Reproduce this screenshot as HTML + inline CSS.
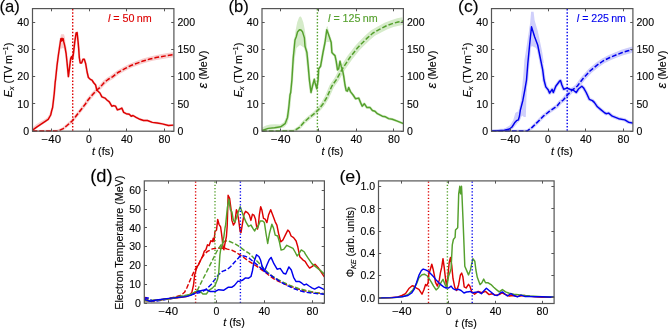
<!DOCTYPE html><html><head><meta charset="utf-8"><style>html,body{margin:0;padding:0;background:#fff;}svg{display:block;font-family:"Liberation Sans",sans-serif;}text{stroke-width:0.22px;stroke:#000;stroke-opacity:0.55}</style></head><body>
<svg width="668" height="329" viewBox="0 0 668 329">
<rect width="668" height="329" fill="#fff"/>
<g style="opacity:0.999">
<g transform="translate(-0.559,12.429) scale(1.1088,1.1571)"><text x="0" y="0" font-size="15">(a)</text></g>
<defs><clipPath id="cp32"><rect x="32.50" y="8.60" width="141.40" height="122.60"/></clipPath></defs>
<g clip-path="url(#cp32)">
<polygon points="32.50,132.30 56.95,132.50 60.53,131.53 64.01,129.81 67.97,126.64 73.01,122.29 76.75,117.80 80.71,112.81 87.00,104.73 89.50,100.99 94.48,95.21 98.10,91.36 101.36,88.76 105.69,83.90 109.15,81.15 113.68,78.48 119.16,74.27 125.93,70.62 131.91,67.54 138.20,65.25 143.73,63.23 150.51,61.32 156.48,60.00 162.73,58.97 168.41,58.02 173.87,57.27 173.13,52.13 167.59,52.98 161.87,54.03 155.52,55.20 149.29,56.68 142.27,58.77 136.60,60.95 130.09,63.46 123.87,66.78 116.84,70.73 111.32,75.12 106.85,77.85 102.91,81.10 98.64,86.04 95.50,88.64 91.72,92.79 86.70,98.81 84.20,102.67 78.09,110.79 74.25,115.80 70.79,120.11 66.03,124.36 62.39,127.39 59.47,128.87 56.85,129.70 32.50,129.90" fill="#f8cfcf" stroke="none"/>
<polyline points="32.50,130.60 33.20,129.60 37.00,126.80 40.70,124.30 44.50,121.80 48.20,119.30 50.70,115.00 51.60,111.00 52.60,107.50 53.50,100.00 54.30,93.00 55.20,82.00 55.60,79.30 57.00,65.70 58.40,55.00 59.30,49.00 60.20,43.00 60.80,38.80 61.50,41.00 62.00,38.20 62.60,40.50 63.20,38.80 63.80,42.00 64.80,46.20 66.10,53.50 67.00,62.00 68.40,76.60 69.80,65.70 70.70,58.40 71.60,56.60 72.50,59.30 73.40,53.80 74.80,41.70 76.10,33.00 77.10,32.60 78.00,40.80 78.70,48.70 79.30,57.50 80.20,62.90 81.60,62.90 83.00,59.30 84.30,59.30 85.70,63.80 87.10,72.00 88.40,77.50 90.30,79.30 92.00,80.20 93.50,82.50 95.60,85.00 96.80,90.00 99.90,93.00 101.90,96.90 105.00,98.10 106.90,100.00 109.30,101.80 111.80,106.20 113.70,105.60 115.60,106.20 117.40,109.90 119.30,109.30 121.80,108.10 123.70,112.40 126.20,113.70 129.30,114.30 131.20,116.20 133.00,115.50 136.10,117.40 139.90,119.30 143.60,120.50 147.40,120.50 152.30,122.40 157.30,123.00 162.30,123.90 168.50,125.50 173.50,125.10" fill="none" stroke="#f8cfcf" stroke-width="2.40" stroke-linejoin="round" stroke-linecap="butt" stroke-linecap="round"/>
<polygon points="58.00,50.00 59.30,44.00 60.30,38.00 61.00,34.30 64.00,34.30 65.00,38.00 65.60,44.00 67.00,50.00 63.00,48.00" fill="#f8cfcf" stroke="none"/>
<polygon points="32.50,131.00 32.50,127.50 36.00,124.50 40.00,122.00 44.00,119.80 47.50,117.50 50.00,113.00 51.20,113.50 49.00,119.50 45.00,122.80 40.50,125.50 36.00,128.50 33.50,131.00" fill="#f8cfcf" stroke="none"/>
</g>
<line x1="72.70" y1="9.10" x2="72.70" y2="131.20" stroke="#dd0000" stroke-width="1.4" stroke-dasharray="1.4 1.85"/>
<polyline points="32.50,131.10 56.90,131.10 60.00,130.20 63.20,128.60 67.00,125.50 71.90,121.20 75.50,116.80 79.40,111.80 85.60,103.70 88.10,99.90 93.10,94.00 96.80,90.00 100.00,87.40 104.30,82.50 108.00,79.50 112.50,76.80 118.00,72.50 124.90,68.70 131.00,65.50 137.40,63.10 143.00,61.00 149.90,59.00 156.00,57.60 162.30,56.50 168.00,55.50 173.50,54.70" fill="none" stroke="#dd0000" stroke-width="1.50" stroke-linejoin="round" stroke-linecap="butt" stroke-dasharray="4.8 2" />
<polyline points="32.50,130.60 33.20,129.60 37.00,126.80 40.70,124.30 44.50,121.80 48.20,119.30 50.70,115.00 51.60,111.00 52.60,107.50 53.50,100.00 54.30,93.00 55.20,82.00 55.60,79.30 57.00,65.70 58.40,55.00 59.30,49.00 60.20,43.00 60.80,38.80 61.50,41.00 62.00,38.20 62.60,40.50 63.20,38.80 63.80,42.00 64.80,46.20 66.10,53.50 67.00,62.00 68.40,76.60 69.80,65.70 70.70,58.40 71.60,56.60 72.50,59.30 73.40,53.80 74.80,41.70 76.10,33.00 77.10,32.60 78.00,40.80 78.70,48.70 79.30,57.50 80.20,62.90 81.60,62.90 83.00,59.30 84.30,59.30 85.70,63.80 87.10,72.00 88.40,77.50 90.30,79.30 92.00,80.20 93.50,82.50 95.60,85.00 96.80,90.00 99.90,93.00 101.90,96.90 105.00,98.10 106.90,100.00 109.30,101.80 111.80,106.20 113.70,105.60 115.60,106.20 117.40,109.90 119.30,109.30 121.80,108.10 123.70,112.40 126.20,113.70 129.30,114.30 131.20,116.20 133.00,115.50 136.10,117.40 139.90,119.30 143.60,120.50 147.40,120.50 152.30,122.40 157.30,123.00 162.30,123.90 168.50,125.50 173.50,125.10" fill="none" stroke="#dd0000" stroke-width="1.45" stroke-linejoin="round" stroke-linecap="butt" />
<rect x="32.50" y="8.60" width="141.40" height="122.60" fill="none" stroke="#555555" stroke-width="1.2"/>
<line x1="51.50" y1="131.20" x2="51.50" y2="128.50" stroke="#555555" stroke-width="1.0"/>
<line x1="51.50" y1="8.60" x2="51.50" y2="11.30" stroke="#555555" stroke-width="1.0"/>
<text x="51.35" y="142.70" font-size="10.00" text-anchor="middle" fill="#000" textLength="19.42" lengthAdjust="spacingAndGlyphs" >−40</text>
<line x1="89.50" y1="131.20" x2="89.50" y2="128.50" stroke="#555555" stroke-width="1.0"/>
<line x1="89.50" y1="8.60" x2="89.50" y2="11.30" stroke="#555555" stroke-width="1.0"/>
<text x="89.06" y="142.70" font-size="10.00" text-anchor="middle" fill="#000" textLength="5.85" lengthAdjust="spacingAndGlyphs" >0</text>
<line x1="126.50" y1="131.20" x2="126.50" y2="128.50" stroke="#555555" stroke-width="1.0"/>
<line x1="126.50" y1="8.60" x2="126.50" y2="11.30" stroke="#555555" stroke-width="1.0"/>
<text x="126.77" y="142.70" font-size="10.00" text-anchor="middle" fill="#000" textLength="11.71" lengthAdjust="spacingAndGlyphs" >40</text>
<line x1="164.50" y1="131.20" x2="164.50" y2="128.50" stroke="#555555" stroke-width="1.0"/>
<line x1="164.50" y1="8.60" x2="164.50" y2="11.30" stroke="#555555" stroke-width="1.0"/>
<text x="164.47" y="142.70" font-size="10.00" text-anchor="middle" fill="#000" textLength="11.71" lengthAdjust="spacingAndGlyphs" >80</text>
<text x="92.03" y="154.60" font-size="10.0" text-anchor="start" textLength="21.74" lengthAdjust="spacingAndGlyphs"><tspan font-style="italic">t</tspan> (fs)</text>
<line x1="32.50" y1="131.50" x2="35.20" y2="131.50" stroke="#555555" stroke-width="1.0"/>
<text x="29.10" y="134.95" font-size="10.00" text-anchor="end" fill="#000" textLength="5.85" lengthAdjust="spacingAndGlyphs" >0</text>
<line x1="32.50" y1="103.50" x2="35.20" y2="103.50" stroke="#555555" stroke-width="1.0"/>
<text x="29.10" y="107.71" font-size="10.00" text-anchor="end" fill="#000" textLength="11.71" lengthAdjust="spacingAndGlyphs" >10</text>
<line x1="32.50" y1="76.50" x2="35.20" y2="76.50" stroke="#555555" stroke-width="1.0"/>
<text x="29.10" y="80.46" font-size="10.00" text-anchor="end" fill="#000" textLength="11.71" lengthAdjust="spacingAndGlyphs" >20</text>
<line x1="32.50" y1="49.50" x2="35.20" y2="49.50" stroke="#555555" stroke-width="1.0"/>
<text x="29.10" y="53.22" font-size="10.00" text-anchor="end" fill="#000" textLength="11.71" lengthAdjust="spacingAndGlyphs" >30</text>
<line x1="32.50" y1="22.50" x2="35.20" y2="22.50" stroke="#555555" stroke-width="1.0"/>
<text x="29.10" y="25.97" font-size="10.00" text-anchor="end" fill="#000" textLength="11.71" lengthAdjust="spacingAndGlyphs" >40</text>
<line x1="173.90" y1="131.50" x2="171.20" y2="131.50" stroke="#555555" stroke-width="1.0"/>
<text x="177.50" y="134.95" font-size="10.00" text-anchor="start" fill="#000" textLength="5.85" lengthAdjust="spacingAndGlyphs" >0</text>
<line x1="173.90" y1="103.50" x2="171.20" y2="103.50" stroke="#555555" stroke-width="1.0"/>
<text x="177.50" y="107.71" font-size="10.00" text-anchor="start" fill="#000" textLength="11.71" lengthAdjust="spacingAndGlyphs" >50</text>
<line x1="173.90" y1="76.50" x2="171.20" y2="76.50" stroke="#555555" stroke-width="1.0"/>
<text x="177.50" y="80.46" font-size="10.00" text-anchor="start" fill="#000" textLength="17.56" lengthAdjust="spacingAndGlyphs" >100</text>
<line x1="173.90" y1="49.50" x2="171.20" y2="49.50" stroke="#555555" stroke-width="1.0"/>
<text x="177.50" y="53.22" font-size="10.00" text-anchor="start" fill="#000" textLength="17.56" lengthAdjust="spacingAndGlyphs" >150</text>
<line x1="173.90" y1="22.50" x2="171.20" y2="22.50" stroke="#555555" stroke-width="1.0"/>
<text x="177.50" y="25.97" font-size="10.00" text-anchor="start" fill="#000" textLength="17.56" lengthAdjust="spacingAndGlyphs" >200</text>
<g transform="translate(12.200,70.050) scale(1.0000,1.0780)"><g transform="rotate(-90)"><text x="0" y="0" font-size="10" text-anchor="middle"><tspan font-style="italic">E</tspan><tspan font-size="7" dy="2" font-style="italic">x</tspan><tspan dy="-2"> (TV m</tspan><tspan font-size="7" dy="-4">−1</tspan><tspan dy="4">)</tspan></text></g></g>
<g transform="translate(206.650,69.514) scale(1.0000,1.0714)"><g transform="rotate(-90)"><text x="0" y="0" font-size="10" text-anchor="middle"><tspan font-style="italic" font-size="12">ε</tspan> (MeV)</text></g></g>
<g transform="translate(107.900,22.400) scale(1.0800,1.0250)"><text x="0" y="0" font-size="10" fill="#dd0000" style="stroke:#dd0000;stroke-width:0.22px;stroke-opacity:0.55"><tspan font-style="italic">l</tspan> = 50 nm</text></g>
<g transform="translate(228.594,12.329) scale(1.1059,1.1571)"><text x="0" y="0" font-size="15">(b)</text></g>
<defs><clipPath id="cp262"><rect x="262.00" y="8.60" width="141.40" height="122.60"/></clipPath></defs>
<g clip-path="url(#cp262)">
<polygon points="262.00,132.30 293.27,132.72 296.85,131.03 300.57,128.66 305.69,123.09 310.61,118.88 315.62,115.20 320.87,110.08 324.91,104.91 328.84,98.51 333.95,87.36 338.98,80.34 344.82,70.12 352.26,59.20 359.75,49.97 363.43,46.21 369.62,40.28 374.92,35.76 381.54,32.25 387.47,29.24 393.45,27.06 398.85,25.63 403.67,24.84 402.33,17.36 397.15,18.37 391.15,20.14 384.53,22.76 378.26,26.15 371.08,30.24 365.18,35.52 358.97,41.79 355.05,46.03 347.54,55.80 340.18,67.28 334.62,77.66 329.65,85.04 324.76,96.49 321.29,102.49 317.73,107.32 312.98,112.20 308.19,115.92 303.11,120.51 298.23,126.14 295.15,128.17 293.13,129.48 262.00,129.90" fill="#d5ebc9" stroke="none"/>
<polyline points="262.00,130.50 268.20,128.40 274.50,127.70 280.70,126.80 285.10,123.70 287.50,117.40 288.80,107.50 290.00,95.00 290.70,92.50 291.90,80.00 293.20,58.70 295.00,40.00 296.30,36.70 297.50,32.00 299.40,29.80 301.00,30.00 302.50,31.70 304.40,37.90 305.00,46.20 306.90,52.50 308.10,64.90 309.40,80.00 311.00,92.50 312.50,86.00 314.30,79.30 315.00,82.50 316.80,88.70 318.10,80.00 318.70,68.70 320.60,66.20 323.00,52.50 325.00,42.50 326.80,29.80 328.00,33.00 329.30,36.70 331.20,42.50 331.90,52.50 333.00,53.70 335.00,55.60 336.20,61.20 337.50,69.90 338.70,68.70 340.00,61.20 341.20,66.20 342.50,69.90 343.70,76.20 345.00,85.00 346.20,90.60 347.40,91.20 348.70,87.50 350.60,91.90 353.10,95.00 355.50,98.70 358.70,98.10 360.50,102.40 362.20,106.20 364.30,103.70 366.80,107.40 369.90,107.40 372.40,110.50 374.90,111.20 377.40,113.70 382.30,116.20 385.50,116.80 388.60,118.60 392.30,119.30 397.30,121.10 403.50,123.60" fill="none" stroke="#d5ebc9" stroke-width="2.60" stroke-linejoin="round" stroke-linecap="butt" stroke-linecap="round"/>
<polygon points="291.50,70.00 292.50,58.00 293.50,48.00 294.20,40.40 295.70,29.80 297.20,22.20 299.00,17.50 300.20,16.30 301.50,17.50 303.30,22.20 304.80,29.80 306.30,40.40 307.10,48.00 308.30,58.00 309.50,72.00 307.50,72.00 306.00,58.00 304.50,48.00 300.00,45.00 296.50,48.00 294.80,58.00 293.50,70.00" fill="#d5ebc9" stroke="none"/>
<polygon points="262.00,131.00 262.00,127.50 266.00,125.50 270.00,124.60 275.00,124.30 280.00,124.50 283.50,122.50 285.50,119.00 287.00,113.00 288.00,105.00 289.50,95.00 291.50,95.00 290.30,106.00 289.30,116.00 287.50,123.50 284.00,127.50 278.00,128.80 270.00,129.60 264.00,131.00" fill="#d5ebc9" stroke="none"/>
<polygon points="325.20,42.00 326.00,30.00 326.80,26.50 327.80,26.50 329.00,33.00 330.50,42.00" fill="#d5ebc9" stroke="none"/>
</g>
<line x1="317.40" y1="9.10" x2="317.40" y2="131.20" stroke="#55a02d" stroke-width="1.4" stroke-dasharray="1.4 1.85"/>
<polyline points="262.00,131.10 293.20,131.10 296.00,129.60 299.40,127.40 304.40,121.80 309.40,117.40 314.30,113.70 319.30,108.70 323.10,103.70 326.80,97.50 331.80,86.20 336.80,79.00 342.50,68.70 349.90,57.50 357.40,48.00 361.20,44.00 367.40,37.90 373.00,33.00 379.90,29.20 386.00,26.00 392.30,23.60 398.00,22.00 403.00,21.10" fill="none" stroke="#55a02d" stroke-width="1.50" stroke-linejoin="round" stroke-linecap="butt" stroke-dasharray="4.8 2" />
<polyline points="262.00,130.50 268.20,128.40 274.50,127.70 280.70,126.80 285.10,123.70 287.50,117.40 288.80,107.50 290.00,95.00 290.70,92.50 291.90,80.00 293.20,58.70 295.00,40.00 296.30,36.70 297.50,32.00 299.40,29.80 301.00,30.00 302.50,31.70 304.40,37.90 305.00,46.20 306.90,52.50 308.10,64.90 309.40,80.00 311.00,92.50 312.50,86.00 314.30,79.30 315.00,82.50 316.80,88.70 318.10,80.00 318.70,68.70 320.60,66.20 323.00,52.50 325.00,42.50 326.80,29.80 328.00,33.00 329.30,36.70 331.20,42.50 331.90,52.50 333.00,53.70 335.00,55.60 336.20,61.20 337.50,69.90 338.70,68.70 340.00,61.20 341.20,66.20 342.50,69.90 343.70,76.20 345.00,85.00 346.20,90.60 347.40,91.20 348.70,87.50 350.60,91.90 353.10,95.00 355.50,98.70 358.70,98.10 360.50,102.40 362.20,106.20 364.30,103.70 366.80,107.40 369.90,107.40 372.40,110.50 374.90,111.20 377.40,113.70 382.30,116.20 385.50,116.80 388.60,118.60 392.30,119.30 397.30,121.10 403.50,123.60" fill="none" stroke="#55a02d" stroke-width="1.45" stroke-linejoin="round" stroke-linecap="butt" />
<rect x="262.00" y="8.60" width="141.40" height="122.60" fill="none" stroke="#555555" stroke-width="1.2"/>
<line x1="280.50" y1="131.20" x2="280.50" y2="128.50" stroke="#555555" stroke-width="1.0"/>
<line x1="280.50" y1="8.60" x2="280.50" y2="11.30" stroke="#555555" stroke-width="1.0"/>
<text x="280.85" y="142.70" font-size="10.00" text-anchor="middle" fill="#000" textLength="19.42" lengthAdjust="spacingAndGlyphs" >−40</text>
<line x1="318.50" y1="131.20" x2="318.50" y2="128.50" stroke="#555555" stroke-width="1.0"/>
<line x1="318.50" y1="8.60" x2="318.50" y2="11.30" stroke="#555555" stroke-width="1.0"/>
<text x="318.56" y="142.70" font-size="10.00" text-anchor="middle" fill="#000" textLength="5.85" lengthAdjust="spacingAndGlyphs" >0</text>
<line x1="356.50" y1="131.20" x2="356.50" y2="128.50" stroke="#555555" stroke-width="1.0"/>
<line x1="356.50" y1="8.60" x2="356.50" y2="11.30" stroke="#555555" stroke-width="1.0"/>
<text x="356.27" y="142.70" font-size="10.00" text-anchor="middle" fill="#000" textLength="11.71" lengthAdjust="spacingAndGlyphs" >40</text>
<line x1="393.50" y1="131.20" x2="393.50" y2="128.50" stroke="#555555" stroke-width="1.0"/>
<line x1="393.50" y1="8.60" x2="393.50" y2="11.30" stroke="#555555" stroke-width="1.0"/>
<text x="393.97" y="142.70" font-size="10.00" text-anchor="middle" fill="#000" textLength="11.71" lengthAdjust="spacingAndGlyphs" >80</text>
<text x="321.53" y="154.60" font-size="10.0" text-anchor="start" textLength="21.74" lengthAdjust="spacingAndGlyphs"><tspan font-style="italic">t</tspan> (fs)</text>
<line x1="262.00" y1="131.50" x2="264.70" y2="131.50" stroke="#555555" stroke-width="1.0"/>
<text x="258.60" y="134.95" font-size="10.00" text-anchor="end" fill="#000" textLength="5.85" lengthAdjust="spacingAndGlyphs" >0</text>
<line x1="262.00" y1="103.50" x2="264.70" y2="103.50" stroke="#555555" stroke-width="1.0"/>
<text x="258.60" y="107.71" font-size="10.00" text-anchor="end" fill="#000" textLength="11.71" lengthAdjust="spacingAndGlyphs" >10</text>
<line x1="262.00" y1="76.50" x2="264.70" y2="76.50" stroke="#555555" stroke-width="1.0"/>
<text x="258.60" y="80.46" font-size="10.00" text-anchor="end" fill="#000" textLength="11.71" lengthAdjust="spacingAndGlyphs" >20</text>
<line x1="262.00" y1="49.50" x2="264.70" y2="49.50" stroke="#555555" stroke-width="1.0"/>
<text x="258.60" y="53.22" font-size="10.00" text-anchor="end" fill="#000" textLength="11.71" lengthAdjust="spacingAndGlyphs" >30</text>
<line x1="262.00" y1="22.50" x2="264.70" y2="22.50" stroke="#555555" stroke-width="1.0"/>
<text x="258.60" y="25.97" font-size="10.00" text-anchor="end" fill="#000" textLength="11.71" lengthAdjust="spacingAndGlyphs" >40</text>
<line x1="403.40" y1="131.50" x2="400.70" y2="131.50" stroke="#555555" stroke-width="1.0"/>
<text x="407.00" y="134.95" font-size="10.00" text-anchor="start" fill="#000" textLength="5.85" lengthAdjust="spacingAndGlyphs" >0</text>
<line x1="403.40" y1="103.50" x2="400.70" y2="103.50" stroke="#555555" stroke-width="1.0"/>
<text x="407.00" y="107.71" font-size="10.00" text-anchor="start" fill="#000" textLength="11.71" lengthAdjust="spacingAndGlyphs" >50</text>
<line x1="403.40" y1="76.50" x2="400.70" y2="76.50" stroke="#555555" stroke-width="1.0"/>
<text x="407.00" y="80.46" font-size="10.00" text-anchor="start" fill="#000" textLength="17.56" lengthAdjust="spacingAndGlyphs" >100</text>
<line x1="403.40" y1="49.50" x2="400.70" y2="49.50" stroke="#555555" stroke-width="1.0"/>
<text x="407.00" y="53.22" font-size="10.00" text-anchor="start" fill="#000" textLength="17.56" lengthAdjust="spacingAndGlyphs" >150</text>
<line x1="403.40" y1="22.50" x2="400.70" y2="22.50" stroke="#555555" stroke-width="1.0"/>
<text x="407.00" y="25.97" font-size="10.00" text-anchor="start" fill="#000" textLength="17.56" lengthAdjust="spacingAndGlyphs" >200</text>
<g transform="translate(241.700,70.050) scale(1.0000,1.0780)"><g transform="rotate(-90)"><text x="0" y="0" font-size="10" text-anchor="middle"><tspan font-style="italic">E</tspan><tspan font-size="7" dy="2" font-style="italic">x</tspan><tspan dy="-2"> (TV m</tspan><tspan font-size="7" dy="-4">−1</tspan><tspan dy="4">)</tspan></text></g></g>
<g transform="translate(436.150,69.514) scale(1.0000,1.0714)"><g transform="rotate(-90)"><text x="0" y="0" font-size="10" text-anchor="middle"><tspan font-style="italic" font-size="12">ε</tspan> (MeV)</text></g></g>
<g transform="translate(328.000,22.400) scale(1.0739,1.0250)"><text x="0" y="0" font-size="10" fill="#55a02d" style="stroke:#55a02d;stroke-width:0.22px;stroke-opacity:0.55"><tspan font-style="italic">l</tspan> = 125 nm</text></g>
<g transform="translate(458.025,12.329) scale(1.1750,1.1571)"><text x="0" y="0" font-size="15">(c)</text></g>
<defs><clipPath id="cp491"><rect x="491.50" y="8.60" width="141.40" height="122.60"/></clipPath></defs>
<g clip-path="url(#cp491)">
<polygon points="491.50,132.30 527.24,132.67 533.18,128.63 539.62,122.42 544.50,117.55 550.71,112.73 558.28,107.71 561.43,103.85 564.76,101.48 569.12,96.41 573.50,91.63 576.34,89.91 579.15,87.47 584.93,80.03 591.72,72.80 598.98,66.95 604.36,63.29 611.05,59.99 617.05,57.61 623.25,55.22 628.82,53.63 633.81,52.29 632.19,46.51 627.18,47.97 621.35,49.78 614.95,52.39 608.75,55.01 601.64,58.71 595.82,62.85 588.28,69.20 581.27,76.97 575.65,84.53 573.66,86.29 570.50,88.37 565.88,93.59 561.84,98.52 558.57,100.95 555.72,104.69 548.49,109.67 542.10,114.85 537.18,119.98 531.02,126.17 526.96,129.53 491.50,129.90" fill="#cfcffb" stroke="none"/>
<polyline points="491.50,131.10 498.00,130.60 504.40,130.20 509.50,129.00 512.00,127.00 514.60,122.80 516.50,120.70 518.40,119.80 519.50,116.00 520.30,110.40 522.90,100.20 524.80,90.00 526.50,80.00 527.80,63.70 529.60,45.00 531.50,26.70 534.60,36.70 537.70,45.00 540.20,57.50 542.70,69.90 544.00,80.00 545.80,86.90 548.30,90.00 549.60,93.10 552.10,89.30 553.30,92.50 555.80,86.20 559.50,81.20 560.50,80.50 561.90,85.00 563.70,89.30 566.90,88.10 570.00,89.30 573.10,90.00 576.20,92.50 578.70,88.70 581.80,86.20 583.70,88.10 586.20,92.50 589.30,99.30 592.40,100.60 594.30,102.40 597.40,106.80 601.10,109.90 604.90,113.00 606.10,113.70 608.60,113.10 612.30,116.20 618.60,118.70 624.80,119.90 628.50,122.20 633.00,123.10" fill="none" stroke="#cfcffb" stroke-width="3.40" stroke-linejoin="round" stroke-linecap="butt" stroke-linecap="round"/>
<polygon points="521.00,97.00 522.30,86.00 523.60,72.00 524.40,60.00 525.50,53.60 527.80,38.40 530.10,23.20 531.10,11.80 533.60,11.80 534.60,20.20 537.70,30.80 540.00,41.40 542.20,52.00 543.80,63.00 541.50,63.00 539.50,55.00 536.00,48.00 532.00,46.00 529.80,48.00 529.00,55.00 527.50,75.00 526.80,90.00 526.20,105.00 525.80,117.00 524.00,117.00 522.00,115.50 519.50,120.50 516.00,125.00 512.00,129.00 506.00,131.00 500.00,131.20 500.00,130.50 505.00,128.30 510.00,125.30 513.30,120.00 515.30,113.00 517.50,111.50 519.20,113.00 520.50,105.00" fill="#cfcffb" stroke="none"/>
</g>
<line x1="567.20" y1="9.10" x2="567.20" y2="131.20" stroke="#0000ee" stroke-width="1.4" stroke-dasharray="1.4 1.85"/>
<polyline points="491.50,131.10 527.10,131.10 532.10,127.40 538.40,121.20 543.30,116.20 549.60,111.20 557.00,106.20 560.00,102.40 563.30,100.00 567.50,95.00 572.00,90.00 575.00,88.10 577.40,86.00 583.10,78.50 590.00,71.00 597.40,64.90 603.00,61.00 609.90,57.50 616.00,55.00 622.30,52.50 628.00,50.80 633.00,49.40" fill="none" stroke="#0000ee" stroke-width="1.50" stroke-linejoin="round" stroke-linecap="butt" stroke-dasharray="4.8 2" />
<polyline points="491.50,131.10 498.00,130.60 504.40,130.20 509.50,129.00 512.00,127.00 514.60,122.80 516.50,120.70 518.40,119.80 519.50,116.00 520.30,110.40 522.90,100.20 524.80,90.00 526.50,80.00 527.80,63.70 529.60,45.00 531.50,26.70 534.60,36.70 537.70,45.00 540.20,57.50 542.70,69.90 544.00,80.00 545.80,86.90 548.30,90.00 549.60,93.10 552.10,89.30 553.30,92.50 555.80,86.20 559.50,81.20 560.50,80.50 561.90,85.00 563.70,89.30 566.90,88.10 570.00,89.30 573.10,90.00 576.20,92.50 578.70,88.70 581.80,86.20 583.70,88.10 586.20,92.50 589.30,99.30 592.40,100.60 594.30,102.40 597.40,106.80 601.10,109.90 604.90,113.00 606.10,113.70 608.60,113.10 612.30,116.20 618.60,118.70 624.80,119.90 628.50,122.20 633.00,123.10" fill="none" stroke="#0000ee" stroke-width="1.45" stroke-linejoin="round" stroke-linecap="butt" />
<rect x="491.50" y="8.60" width="141.40" height="122.60" fill="none" stroke="#555555" stroke-width="1.2"/>
<line x1="510.50" y1="131.20" x2="510.50" y2="128.50" stroke="#555555" stroke-width="1.0"/>
<line x1="510.50" y1="8.60" x2="510.50" y2="11.30" stroke="#555555" stroke-width="1.0"/>
<text x="510.35" y="142.70" font-size="10.00" text-anchor="middle" fill="#000" textLength="19.42" lengthAdjust="spacingAndGlyphs" >−40</text>
<line x1="548.50" y1="131.20" x2="548.50" y2="128.50" stroke="#555555" stroke-width="1.0"/>
<line x1="548.50" y1="8.60" x2="548.50" y2="11.30" stroke="#555555" stroke-width="1.0"/>
<text x="548.06" y="142.70" font-size="10.00" text-anchor="middle" fill="#000" textLength="5.85" lengthAdjust="spacingAndGlyphs" >0</text>
<line x1="585.50" y1="131.20" x2="585.50" y2="128.50" stroke="#555555" stroke-width="1.0"/>
<line x1="585.50" y1="8.60" x2="585.50" y2="11.30" stroke="#555555" stroke-width="1.0"/>
<text x="585.77" y="142.70" font-size="10.00" text-anchor="middle" fill="#000" textLength="11.71" lengthAdjust="spacingAndGlyphs" >40</text>
<line x1="623.50" y1="131.20" x2="623.50" y2="128.50" stroke="#555555" stroke-width="1.0"/>
<line x1="623.50" y1="8.60" x2="623.50" y2="11.30" stroke="#555555" stroke-width="1.0"/>
<text x="623.47" y="142.70" font-size="10.00" text-anchor="middle" fill="#000" textLength="11.71" lengthAdjust="spacingAndGlyphs" >80</text>
<text x="551.03" y="154.60" font-size="10.0" text-anchor="start" textLength="21.74" lengthAdjust="spacingAndGlyphs"><tspan font-style="italic">t</tspan> (fs)</text>
<line x1="491.50" y1="131.50" x2="494.20" y2="131.50" stroke="#555555" stroke-width="1.0"/>
<text x="488.10" y="134.95" font-size="10.00" text-anchor="end" fill="#000" textLength="5.85" lengthAdjust="spacingAndGlyphs" >0</text>
<line x1="491.50" y1="103.50" x2="494.20" y2="103.50" stroke="#555555" stroke-width="1.0"/>
<text x="488.10" y="107.71" font-size="10.00" text-anchor="end" fill="#000" textLength="11.71" lengthAdjust="spacingAndGlyphs" >10</text>
<line x1="491.50" y1="76.50" x2="494.20" y2="76.50" stroke="#555555" stroke-width="1.0"/>
<text x="488.10" y="80.46" font-size="10.00" text-anchor="end" fill="#000" textLength="11.71" lengthAdjust="spacingAndGlyphs" >20</text>
<line x1="491.50" y1="49.50" x2="494.20" y2="49.50" stroke="#555555" stroke-width="1.0"/>
<text x="488.10" y="53.22" font-size="10.00" text-anchor="end" fill="#000" textLength="11.71" lengthAdjust="spacingAndGlyphs" >30</text>
<line x1="491.50" y1="22.50" x2="494.20" y2="22.50" stroke="#555555" stroke-width="1.0"/>
<text x="488.10" y="25.97" font-size="10.00" text-anchor="end" fill="#000" textLength="11.71" lengthAdjust="spacingAndGlyphs" >40</text>
<line x1="632.90" y1="131.50" x2="630.20" y2="131.50" stroke="#555555" stroke-width="1.0"/>
<text x="636.50" y="134.95" font-size="10.00" text-anchor="start" fill="#000" textLength="5.85" lengthAdjust="spacingAndGlyphs" >0</text>
<line x1="632.90" y1="103.50" x2="630.20" y2="103.50" stroke="#555555" stroke-width="1.0"/>
<text x="636.50" y="107.71" font-size="10.00" text-anchor="start" fill="#000" textLength="11.71" lengthAdjust="spacingAndGlyphs" >50</text>
<line x1="632.90" y1="76.50" x2="630.20" y2="76.50" stroke="#555555" stroke-width="1.0"/>
<text x="636.50" y="80.46" font-size="10.00" text-anchor="start" fill="#000" textLength="17.56" lengthAdjust="spacingAndGlyphs" >100</text>
<line x1="632.90" y1="49.50" x2="630.20" y2="49.50" stroke="#555555" stroke-width="1.0"/>
<text x="636.50" y="53.22" font-size="10.00" text-anchor="start" fill="#000" textLength="17.56" lengthAdjust="spacingAndGlyphs" >150</text>
<line x1="632.90" y1="22.50" x2="630.20" y2="22.50" stroke="#555555" stroke-width="1.0"/>
<text x="636.50" y="25.97" font-size="10.00" text-anchor="start" fill="#000" textLength="17.56" lengthAdjust="spacingAndGlyphs" >200</text>
<g transform="translate(471.200,70.050) scale(1.0000,1.0780)"><g transform="rotate(-90)"><text x="0" y="0" font-size="10" text-anchor="middle"><tspan font-style="italic">E</tspan><tspan font-size="7" dy="2" font-style="italic">x</tspan><tspan dy="-2"> (TV m</tspan><tspan font-size="7" dy="-4">−1</tspan><tspan dy="4">)</tspan></text></g></g>
<g transform="translate(665.650,69.514) scale(1.0000,1.0714)"><g transform="rotate(-90)"><text x="0" y="0" font-size="10" text-anchor="middle"><tspan font-style="italic" font-size="12">ε</tspan> (MeV)</text></g></g>
<g transform="translate(576.800,22.400) scale(1.0652,1.0250)"><text x="0" y="0" font-size="10" fill="#0000ee" style="stroke:#0000ee;stroke-width:0.22px;stroke-opacity:0.55"><tspan font-style="italic">l</tspan> = 225 nm</text></g>
<g transform="translate(90.176,181.686) scale(1.2235,1.1714)"><text x="0" y="0" font-size="15">(d)</text></g>
<g>
<polyline points="144.30,298.10 145.90,297.50 147.70,299.40 151.50,301.60 156.50,300.60 162.70,299.40 168.90,298.40 175.20,297.10 180.10,295.40 182.50,294.00 184.50,292.30 187.00,287.50 189.20,282.30 191.60,276.80 194.00,271.50 196.50,267.00 199.00,263.30 202.00,257.50 204.50,254.00 207.50,251.40 212.40,248.90 217.30,248.10 222.30,248.30 225.00,248.30 227.30,249.10 232.20,250.30 235.80,252.20 239.50,254.60 243.10,257.00 248.00,260.70 252.80,263.70 256.50,266.10 260.00,268.60 263.60,271.10 268.60,275.00 273.60,278.60 278.60,281.40 283.60,283.60 288.60,285.60 293.60,287.30 299.00,289.20 306.00,291.00 315.00,292.60 324.30,293.80" fill="none" stroke="#dd0000" stroke-width="1.45" stroke-linejoin="round" stroke-linecap="butt" stroke-dasharray="4.8 2" />
<polyline points="144.30,300.00 156.50,300.30 168.90,298.80 181.40,296.00 187.60,295.00 191.40,294.40 193.90,293.30 198.00,289.00 201.60,281.70 205.30,274.50 208.90,267.20 212.60,259.90 215.00,255.00 217.00,251.00 219.00,248.00 222.30,243.00 224.90,241.20 227.00,240.80 229.70,241.50 234.60,243.60 239.50,246.70 244.30,250.30 249.20,253.40 254.00,258.20 258.90,263.10 263.60,268.30 268.60,273.20 273.60,277.00 278.60,279.80 283.60,282.50 288.60,284.80 293.60,286.80 298.50,288.50 308.00,291.00 316.00,292.80 324.30,293.80" fill="none" stroke="#55a02d" stroke-width="1.45" stroke-linejoin="round" stroke-linecap="butt" stroke-dasharray="4.8 2" />
<polyline points="144.30,298.50 146.50,297.80 149.00,298.10 151.50,300.60 154.00,301.60 162.70,300.00 175.20,297.90 187.60,295.60 200.10,292.50 202.90,291.50 207.70,287.80 211.40,284.20 215.00,279.30 218.70,274.50 222.30,271.40 227.20,269.60 230.80,266.50 234.50,262.30 238.00,258.60 239.80,256.20 241.90,255.60 245.50,256.40 249.20,258.20 252.80,261.30 256.50,264.30 260.00,267.40 263.60,270.20 268.60,274.00 273.60,277.30 278.60,280.60 283.60,283.60 288.60,286.20 293.60,288.50 299.00,290.50 306.00,292.30 315.00,293.40 324.30,294.20" fill="none" stroke="#0000ee" stroke-width="1.45" stroke-linejoin="round" stroke-linecap="butt" stroke-dasharray="4.8 2" />
<polyline points="144.30,300.50 150.00,301.00 156.50,300.30 168.90,298.80 181.40,297.30 186.00,296.50 189.00,295.50 191.80,292.60 193.50,285.10 194.70,274.70 196.40,268.90 197.60,266.00 198.70,264.50 200.10,261.30 202.60,256.30 204.20,251.40 205.90,249.80 207.50,244.80 209.10,245.70 210.80,240.70 212.40,241.60 213.20,238.30 214.10,241.60 214.90,231.70 216.50,230.10 217.70,219.40 219.00,224.30 220.60,226.80 221.50,233.30 222.30,239.90 223.10,248.10 223.90,249.80 224.70,244.80 226.40,236.60 227.20,226.00 227.70,210.00 228.10,195.30 229.60,198.40 231.10,209.80 231.90,220.40 233.40,225.00 234.90,222.70 236.40,209.80 237.20,211.30 238.70,220.40 240.20,231.80 241.00,232.60 242.50,223.40 244.00,214.30 245.60,211.30 247.80,212.80 249.40,215.10 250.90,220.40 252.40,214.30 253.90,215.10 255.40,218.90 256.50,226.00 257.50,229.00 258.50,224.00 259.30,215.10 260.70,206.70 261.90,210.10 263.50,218.40 265.20,219.20 266.90,222.60 268.50,215.10 270.70,209.70 272.70,215.10 275.20,221.80 276.90,225.10 278.60,233.50 280.70,241.80 282.80,240.20 285.30,235.10 287.80,230.10 289.40,231.80 291.10,236.00 293.60,237.60 296.10,241.00 297.80,246.80 299.80,256.70 302.80,259.80 305.10,261.30 307.40,265.10 309.60,268.10 311.90,266.60 315.00,264.30 318.00,267.40 321.00,271.90 324.30,276.80" fill="none" stroke="#dd0000" stroke-width="1.45" stroke-linejoin="round" stroke-linecap="butt" />
<polyline points="144.30,300.50 150.00,301.00 156.50,300.30 168.90,298.80 181.40,296.80 187.60,295.50 192.90,293.10 198.00,290.30 200.40,291.50 202.90,293.90 206.50,293.90 208.90,290.30 212.60,287.80 215.00,285.40 217.50,279.30 218.70,273.20 219.90,255.00 220.60,250.00 222.30,244.80 223.90,236.60 225.00,228.00 225.60,225.10 227.30,208.20 228.80,199.10 230.40,209.80 231.90,212.00 233.40,220.40 234.90,221.90 236.40,218.10 238.00,212.80 240.20,206.70 241.80,211.30 244.00,217.40 246.30,222.70 248.60,226.50 250.90,225.00 253.20,228.80 254.70,231.00 256.00,228.40 257.70,227.60 260.20,220.90 262.70,220.90 264.40,222.60 266.00,233.50 267.70,243.50 269.40,233.50 271.90,224.30 273.60,228.40 275.20,235.10 277.70,236.00 279.40,241.80 281.10,250.00 283.70,249.40 286.80,245.30 289.90,246.80 293.00,248.40 295.10,252.00 297.10,256.00 299.00,253.70 301.30,249.90 304.40,252.00 305.10,253.70 308.10,258.20 311.90,263.60 316.50,267.40 320.30,270.40 324.30,274.10" fill="none" stroke="#55a02d" stroke-width="1.45" stroke-linejoin="round" stroke-linecap="butt" />
<polyline points="144.30,299.40 150.20,301.30 156.50,300.00 168.90,298.40 181.40,297.10 186.00,296.60 190.60,295.40 195.20,293.10 198.00,291.50 202.90,290.30 206.50,289.70 210.20,291.50 215.00,291.50 218.70,289.70 223.50,290.30 228.40,287.20 232.00,287.20 234.50,285.40 238.00,281.10 239.20,281.40 242.30,280.30 245.50,277.90 248.60,278.20 251.00,276.50 252.40,271.00 254.00,261.90 256.50,254.80 258.90,256.50 260.50,260.00 262.10,266.10 264.40,271.60 266.80,265.30 269.20,259.70 271.10,257.40 273.90,263.70 277.10,269.20 280.20,268.40 283.40,273.20 285.80,274.00 288.90,266.90 291.30,270.00 293.60,277.30 295.90,281.40 299.10,281.40 301.90,283.20 304.10,285.00 306.40,284.10 309.10,286.00 311.90,287.80 314.60,289.10 316.90,287.80 318.70,286.90 321.40,288.20 324.30,289.60" fill="none" stroke="#0000ee" stroke-width="1.45" stroke-linejoin="round" stroke-linecap="butt" />
</g>
<line x1="195.60" y1="181.40" x2="195.60" y2="303.00" stroke="#dd0000" stroke-width="1.4" stroke-dasharray="1.4 1.85"/>
<line x1="215.00" y1="181.40" x2="215.00" y2="303.00" stroke="#55a02d" stroke-width="1.4" stroke-dasharray="1.4 1.85"/>
<line x1="240.40" y1="181.40" x2="240.40" y2="303.00" stroke="#0000ee" stroke-width="1.4" stroke-dasharray="1.4 1.85"/>
<rect x="144.30" y="180.90" width="180.10" height="122.10" fill="none" stroke="#555555" stroke-width="1.2"/>
<line x1="168.50" y1="303.00" x2="168.50" y2="300.30" stroke="#555555" stroke-width="1.0"/>
<line x1="168.50" y1="180.90" x2="168.50" y2="183.60" stroke="#555555" stroke-width="1.0"/>
<text x="168.31" y="314.50" font-size="10.00" text-anchor="middle" fill="#000" textLength="19.42" lengthAdjust="spacingAndGlyphs" >−40</text>
<line x1="216.50" y1="303.00" x2="216.50" y2="300.30" stroke="#555555" stroke-width="1.0"/>
<line x1="216.50" y1="180.90" x2="216.50" y2="183.60" stroke="#555555" stroke-width="1.0"/>
<text x="216.34" y="314.50" font-size="10.00" text-anchor="middle" fill="#000" textLength="5.85" lengthAdjust="spacingAndGlyphs" >0</text>
<line x1="264.50" y1="303.00" x2="264.50" y2="300.30" stroke="#555555" stroke-width="1.0"/>
<line x1="264.50" y1="180.90" x2="264.50" y2="183.60" stroke="#555555" stroke-width="1.0"/>
<text x="264.37" y="314.50" font-size="10.00" text-anchor="middle" fill="#000" textLength="11.71" lengthAdjust="spacingAndGlyphs" >40</text>
<line x1="312.50" y1="303.00" x2="312.50" y2="300.30" stroke="#555555" stroke-width="1.0"/>
<line x1="312.50" y1="180.90" x2="312.50" y2="183.60" stroke="#555555" stroke-width="1.0"/>
<text x="312.39" y="314.50" font-size="10.00" text-anchor="middle" fill="#000" textLength="11.71" lengthAdjust="spacingAndGlyphs" >80</text>
<text x="223.18" y="326.40" font-size="10.0" text-anchor="start" textLength="21.74" lengthAdjust="spacingAndGlyphs"><tspan font-style="italic">t</tspan> (fs)</text>
<line x1="144.30" y1="303.50" x2="147.00" y2="303.50" stroke="#555555" stroke-width="1.0"/>
<line x1="324.40" y1="303.50" x2="321.70" y2="303.50" stroke="#555555" stroke-width="1.0"/>
<text x="140.90" y="306.75" font-size="10.00" text-anchor="end" fill="#000" textLength="5.85" lengthAdjust="spacingAndGlyphs" >0</text>
<line x1="144.30" y1="284.50" x2="147.00" y2="284.50" stroke="#555555" stroke-width="1.0"/>
<line x1="324.40" y1="284.50" x2="321.70" y2="284.50" stroke="#555555" stroke-width="1.0"/>
<text x="140.90" y="287.97" font-size="10.00" text-anchor="end" fill="#000" textLength="11.71" lengthAdjust="spacingAndGlyphs" >10</text>
<line x1="144.30" y1="265.50" x2="147.00" y2="265.50" stroke="#555555" stroke-width="1.0"/>
<line x1="324.40" y1="265.50" x2="321.70" y2="265.50" stroke="#555555" stroke-width="1.0"/>
<text x="140.90" y="269.18" font-size="10.00" text-anchor="end" fill="#000" textLength="11.71" lengthAdjust="spacingAndGlyphs" >20</text>
<line x1="144.30" y1="246.50" x2="147.00" y2="246.50" stroke="#555555" stroke-width="1.0"/>
<line x1="324.40" y1="246.50" x2="321.70" y2="246.50" stroke="#555555" stroke-width="1.0"/>
<text x="140.90" y="250.40" font-size="10.00" text-anchor="end" fill="#000" textLength="11.71" lengthAdjust="spacingAndGlyphs" >30</text>
<line x1="144.30" y1="227.50" x2="147.00" y2="227.50" stroke="#555555" stroke-width="1.0"/>
<line x1="324.40" y1="227.50" x2="321.70" y2="227.50" stroke="#555555" stroke-width="1.0"/>
<text x="140.90" y="231.61" font-size="10.00" text-anchor="end" fill="#000" textLength="11.71" lengthAdjust="spacingAndGlyphs" >40</text>
<line x1="144.30" y1="209.50" x2="147.00" y2="209.50" stroke="#555555" stroke-width="1.0"/>
<line x1="324.40" y1="209.50" x2="321.70" y2="209.50" stroke="#555555" stroke-width="1.0"/>
<text x="140.90" y="212.83" font-size="10.00" text-anchor="end" fill="#000" textLength="11.71" lengthAdjust="spacingAndGlyphs" >50</text>
<line x1="144.30" y1="190.50" x2="147.00" y2="190.50" stroke="#555555" stroke-width="1.0"/>
<line x1="324.40" y1="190.50" x2="321.70" y2="190.50" stroke="#555555" stroke-width="1.0"/>
<text x="140.90" y="194.04" font-size="10.00" text-anchor="end" fill="#000" textLength="11.71" lengthAdjust="spacingAndGlyphs" >60</text>
<g transform="translate(123.300,242.685) scale(1.0800,1.0696)"><g transform="rotate(-90)"><text x="0" y="0" font-size="10" text-anchor="middle">Electron Temperature (MeV)</text></g></g>
<g transform="translate(339.406,181.793) scale(1.1941,1.1357)"><text x="0" y="0" font-size="15">(e)</text></g>
<polyline points="378.50,298.00 390.00,297.70 397.90,296.90 401.90,295.50 405.50,293.60 409.20,288.20 412.20,285.70 414.10,286.30 416.50,288.20 418.90,289.40 422.00,294.20 423.80,290.00 425.60,284.50 426.80,285.70 428.10,282.70 428.70,274.90 430.50,268.70 431.80,264.30 433.00,268.70 434.30,274.90 435.50,282.40 437.40,286.10 439.30,279.90 440.50,272.40 441.70,267.40 443.00,258.70 444.20,267.40 445.50,278.70 446.70,287.40 448.00,274.90 449.20,262.50 450.50,257.50 451.70,265.00 453.00,278.70 454.80,287.40 456.70,290.50 458.60,284.90 460.40,274.90 461.70,273.10 462.90,276.80 464.20,286.80 466.10,288.00 468.50,284.30 470.00,286.40 471.80,291.90 474.60,294.20 478.20,291.40 481.90,292.80 485.50,291.40 489.10,294.60 491.90,293.70 495.50,295.10 499.20,294.60 501.90,292.80 505.60,294.60 509.20,296.00 512.80,295.50 517.40,296.40 524.70,295.50 530.00,296.40 542.00,297.20 554.10,297.30" fill="none" stroke="#dd0000" stroke-width="1.45" stroke-linejoin="round" stroke-linecap="butt" />
<polyline points="378.50,298.00 395.00,297.60 402.90,296.60 407.00,295.00 409.20,293.60 412.80,290.00 416.50,283.90 418.90,277.80 422.00,274.80 424.40,274.20 427.40,276.00 429.30,279.00 431.20,281.80 433.60,286.10 436.10,289.90 438.60,287.40 441.10,282.40 443.00,279.30 444.90,284.30 446.70,287.40 448.60,276.20 449.90,272.40 451.10,268.70 451.70,256.20 452.30,244.80 453.40,239.50 455.10,237.40 455.50,230.00 457.70,227.80 458.70,193.80 459.80,186.30 460.60,193.80 461.50,186.30 461.90,193.80 463.00,219.30 464.00,244.80 464.80,266.20 466.70,270.60 468.50,274.90 470.40,269.90 472.90,258.70 474.80,261.20 475.90,270.00 477.30,277.30 480.00,284.60 481.90,282.80 483.70,279.10 485.50,282.80 488.20,282.80 491.00,284.60 493.70,287.30 496.40,289.60 499.20,291.90 502.40,289.60 505.60,291.90 509.20,293.20 513.80,294.20 518.30,294.60 524.70,295.50 530.00,296.00 542.00,296.60 554.10,297.00" fill="none" stroke="#55a02d" stroke-width="1.45" stroke-linejoin="round" stroke-linecap="butt" />
<polyline points="378.50,297.90 392.20,297.60 401.90,296.70 408.00,295.50 411.60,293.00 414.10,289.40 416.50,282.70 418.90,275.40 421.40,270.50 423.20,269.10 425.60,269.90 428.10,271.10 428.70,271.80 431.20,274.30 433.60,276.80 436.10,279.90 438.60,282.40 441.10,284.90 443.60,286.80 446.10,288.00 448.60,288.00 451.10,286.10 453.00,288.60 455.50,289.90 458.60,289.30 461.10,290.50 464.00,293.00 466.50,292.00 469.00,291.80 470.00,291.40 472.70,292.80 475.50,292.30 478.20,291.90 481.40,293.70 483.70,291.00 486.40,288.20 489.10,290.50 491.90,292.80 494.60,295.10 497.30,295.50 500.10,293.20 502.40,291.90 504.60,293.70 507.40,296.00 511.00,293.70 513.80,295.50 517.40,296.90 521.00,295.10 524.70,296.40 528.30,296.40 535.00,296.80 542.00,296.80 554.10,297.20" fill="none" stroke="#0000ee" stroke-width="1.45" stroke-linejoin="round" stroke-linecap="butt" />
<line x1="428.50" y1="181.40" x2="428.50" y2="303.50" stroke="#dd0000" stroke-width="1.4" stroke-dasharray="1.4 1.85"/>
<line x1="447.40" y1="181.40" x2="447.40" y2="303.50" stroke="#55a02d" stroke-width="1.4" stroke-dasharray="1.4 1.85"/>
<line x1="472.20" y1="181.40" x2="472.20" y2="303.50" stroke="#0000ee" stroke-width="1.4" stroke-dasharray="1.4 1.85"/>
<rect x="378.50" y="180.90" width="175.60" height="122.60" fill="none" stroke="#555555" stroke-width="1.2"/>
<line x1="401.50" y1="303.50" x2="401.50" y2="300.80" stroke="#555555" stroke-width="1.0"/>
<line x1="401.50" y1="180.90" x2="401.50" y2="183.60" stroke="#555555" stroke-width="1.0"/>
<text x="401.91" y="315.00" font-size="10.00" text-anchor="middle" fill="#000" textLength="19.42" lengthAdjust="spacingAndGlyphs" >−40</text>
<line x1="448.50" y1="303.50" x2="448.50" y2="300.80" stroke="#555555" stroke-width="1.0"/>
<line x1="448.50" y1="180.90" x2="448.50" y2="183.60" stroke="#555555" stroke-width="1.0"/>
<text x="448.74" y="315.00" font-size="10.00" text-anchor="middle" fill="#000" textLength="5.85" lengthAdjust="spacingAndGlyphs" >0</text>
<line x1="495.50" y1="303.50" x2="495.50" y2="300.80" stroke="#555555" stroke-width="1.0"/>
<line x1="495.50" y1="180.90" x2="495.50" y2="183.60" stroke="#555555" stroke-width="1.0"/>
<text x="495.57" y="315.00" font-size="10.00" text-anchor="middle" fill="#000" textLength="11.71" lengthAdjust="spacingAndGlyphs" >40</text>
<line x1="542.50" y1="303.50" x2="542.50" y2="300.80" stroke="#555555" stroke-width="1.0"/>
<line x1="542.50" y1="180.90" x2="542.50" y2="183.60" stroke="#555555" stroke-width="1.0"/>
<text x="542.39" y="315.00" font-size="10.00" text-anchor="middle" fill="#000" textLength="11.71" lengthAdjust="spacingAndGlyphs" >80</text>
<text x="455.13" y="326.90" font-size="10.0" text-anchor="start" textLength="21.74" lengthAdjust="spacingAndGlyphs"><tspan font-style="italic">t</tspan> (fs)</text>
<line x1="378.50" y1="297.50" x2="381.20" y2="297.50" stroke="#555555" stroke-width="1.0"/>
<line x1="554.10" y1="297.50" x2="551.40" y2="297.50" stroke="#555555" stroke-width="1.0"/>
<text x="375.10" y="301.65" font-size="10.00" text-anchor="end" fill="#000" textLength="14.63" lengthAdjust="spacingAndGlyphs" >0.0</text>
<line x1="378.50" y1="275.50" x2="381.20" y2="275.50" stroke="#555555" stroke-width="1.0"/>
<line x1="554.10" y1="275.50" x2="551.40" y2="275.50" stroke="#555555" stroke-width="1.0"/>
<text x="375.10" y="279.39" font-size="10.00" text-anchor="end" fill="#000" textLength="14.63" lengthAdjust="spacingAndGlyphs" >0.2</text>
<line x1="378.50" y1="253.50" x2="381.20" y2="253.50" stroke="#555555" stroke-width="1.0"/>
<line x1="554.10" y1="253.50" x2="551.40" y2="253.50" stroke="#555555" stroke-width="1.0"/>
<text x="375.10" y="257.13" font-size="10.00" text-anchor="end" fill="#000" textLength="14.63" lengthAdjust="spacingAndGlyphs" >0.4</text>
<line x1="378.50" y1="231.50" x2="381.20" y2="231.50" stroke="#555555" stroke-width="1.0"/>
<line x1="554.10" y1="231.50" x2="551.40" y2="231.50" stroke="#555555" stroke-width="1.0"/>
<text x="375.10" y="234.87" font-size="10.00" text-anchor="end" fill="#000" textLength="14.63" lengthAdjust="spacingAndGlyphs" >0.6</text>
<line x1="378.50" y1="208.50" x2="381.20" y2="208.50" stroke="#555555" stroke-width="1.0"/>
<line x1="554.10" y1="208.50" x2="551.40" y2="208.50" stroke="#555555" stroke-width="1.0"/>
<text x="375.10" y="212.61" font-size="10.00" text-anchor="end" fill="#000" textLength="14.63" lengthAdjust="spacingAndGlyphs" >0.8</text>
<line x1="378.50" y1="186.50" x2="381.20" y2="186.50" stroke="#555555" stroke-width="1.0"/>
<line x1="554.10" y1="186.50" x2="551.40" y2="186.50" stroke="#555555" stroke-width="1.0"/>
<text x="375.10" y="190.35" font-size="10.00" text-anchor="end" fill="#000" textLength="14.63" lengthAdjust="spacingAndGlyphs" >1.0</text>
<g transform="translate(353.900,242.050) scale(1.1000,1.0397)"><g transform="rotate(-90)"><text x="0" y="0" font-size="10" text-anchor="middle">Φ<tspan font-size="7" dy="2" font-style="italic">KE</tspan><tspan dy="-2"> (arb. units)</tspan></text></g></g>
</g>
</svg></body></html>
